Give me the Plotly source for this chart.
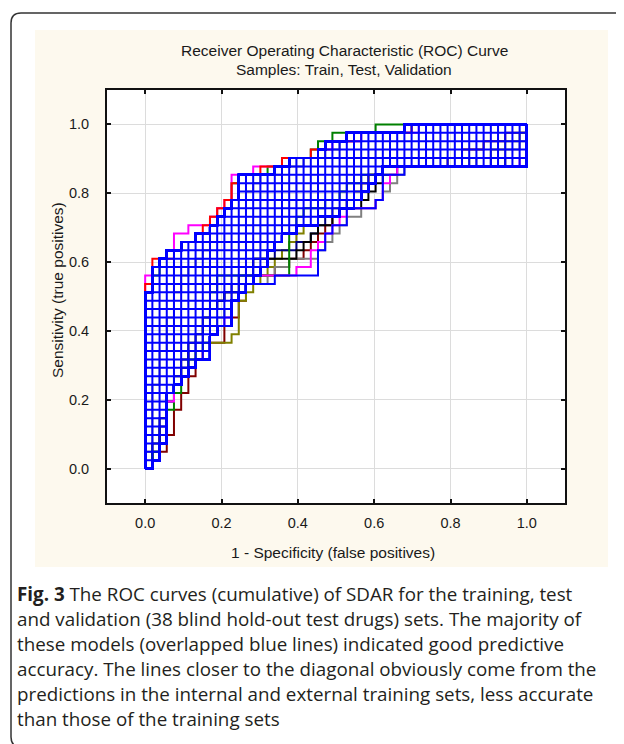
import numpy as np
import plotly.graph_objects as go

# ---------------- data ----------------
N_NEG = 53   # false-positive count that maps to x = 1.0
N_POS = 41   # true-positive count that maps to y = 1.0

TICK_VALUES = [0.0, 0.2, 0.4, 0.6, 0.8, 1.0]
TICK_LABELS = ["0.0", "0.2", "0.4", "0.6", "0.8", "1.0"]

TITLE_LINE_1 = "Receiver Operating Characteristic (ROC) Curve"
TITLE_LINE_2 = "Samples: Train, Test, Validation"
X_TITLE = "1 - Specificity (false positives)"
Y_TITLE = "Sensitivity (true positives)"
CAPTION = [
    "<b>Fig. 3</b> The ROC curves (cumulative) of SDAR for the training, test",
    "and validation (38 blind hold-out test drugs) sets. The majority of",
    "these models (overlapped blue lines) indicated good predictive",
    "accuracy. The lines closer to the diagonal obviously come from the",
    "predictions in the internal and external training sets, less accurate",
    "than those of the training sets",
]

# Every ROC curve is stored as the false-positive count at which
# true-positive count 1..41 is first reached.

# Blue bundle: best (top-left) and worst (bottom-right) blue curves
BLUE_TOP = [0,0,0,0,0,0,0,0,0,0, 0,0,0,0,0,0,0,0,0,0, 0,1,1,1,2,3,5,7,9,10,
            11,12,13,13,13,18,20,24,25,28,36]
BLUE_BOTTOM = [1,2,2,3,3,3,3,3,3,4, 5,6,7,9,9,9,10,12,12,12, 13,14,15,16,17,17,18,19,21,24,
               27,29,30,31,32,33,53,53,53,53,53]
# The overlapping blue curves leave the top curve for the bottom one at every
# true-positive level (rows) and at every false-positive level (columns)
BLUE_CROSS_ROWS = [0,1,2,3,4,5,6,7,8,9,10,11,12,13,14,15,16,17,18,19,20,
                   21,22,23,24,25,26,27,28,29,30,31,32,33,34,35,36,37,38,39,40,41]
BLUE_CROSS_COLS = [0,1,2,3,4,5,6,7,8,9,10,11,12,13,14,15,16,17,18,19,20,21,22,23,24,25,26,
                   27,28,29,30,31,32,33,34,35,36,37,38,39,40,41,42,43,44,45,46,47,48,49,50,51,52,53]
blue_dip = [1,2,2,3,3,3,3,3,3,4, 5,6,7,9,9,9,10,12,12,12, 13,14,18,24,24,24,25,25,26,28,
            28,32,33,33,33,36,53,53,53,53,53]

red = [0,0,0,0,0,0,0,0,0,0, 0,0,0,0,0,0,0,0,0,0, 0,0,1,1,1,4,5,7,8,9, 10,11,12,12,13,16,19,23,25,29,37]
magenta = [0,0,0,0,0,0,0,0,0,0, 0,0,0,0,0,0,0,0,0,0, 0,0,0,1,2,3,4,4,6,9, 10,11,12,12,12,15,20,24,26,30,38]
magenta_b = [1,2,2,3,3,3,3,3,4,4, 5,6,7,8,9,9,10,11,12,12, 13,14,15,21,23,23,24,25,26,27, 28,32,33,33,34,35,52,53,53,53,53]
green_a = [0,0,0,0,0,0,0,0,0,0, 0,0,0,0,0,0,0,0,0,0, 0,1,1,2,2,3,5,7,9,10, 11,12,12,12,13,17,20,23,24,26,32]
green_b = [1,1,2,3,3,3,3,4,4,5, 5,6,6,7,8,9,9,9,9,9, 9,10,10,20,20,20,20,20,21,21, 22,25,27,28,30,33,53,53,53,53,53]
black = [1,1,1,2,2,2,3,3,3,4, 4,5,5,6,6,7,8,8,9,10, 11,13,14,14,15,21,22,23,24,26, 27,30,31,32,33,35,50,53,53,53,53]
navy = [1,1,2,2,2,3,3,3,4,4, 5,5,6,6,7,8,8,9,9,10, 11,12,13,15,15,18,21,23,24,25, 27,28,30,31,32,33,48,53,53,53,53]
grey_a = [0,0,1,1,1,1,1,1,1,1, 2,2,2,2,3,3,3,3,4,4, 4,5,5,6,7,8,9,9,9,9, 10,12,14,15,16,19,22,25,27,30,37]
grey_b = [1,1,2,2,3,3,3,3,4,4, 5,5,6,7,8,9,10,10,11,12, 12,14,17,18,20,24,25,26,27,28, 30,32,33,34,35,36,46,50,52,53,53]
olive = [1,2,2,3,3,3,3,3,3,4, 5,6,7,8,9,12,13,13,13,13, 14,15,16,17,18,19,20,21,22,24, 26,28,29,30,31,33,45,48,50,52,53]
maroon = [1,2,3,3,4,4,4,5,5,6, 6,7,7,8,9,11,11,12,13,13, 14,14,15,18,20,22,23,24,25,26, 27,29,30,30,31,33,42,44,47,50,53]

COLORED = [
    (maroon, "#800000"), (olive, "#808000"), (grey_b, "#808080"), (grey_a, "#808080"),
    (navy, "#000080"), (black, "#000000"), (green_b, "#008000"), (magenta_b, "#ff00ff"),
    (green_a, "#008000"), (magenta, "#ff00ff"), (red, "#ff0000"),
]


def roc_xy(reach):
    fp = [0] + list(reach) + [N_NEG]
    tp = [0] + list(range(1, len(reach) + 1)) + [len(reach)]
    return np.array(fp) / N_NEG, np.array(tp) / N_POS


blue_curves = [blue_dip]
for r in BLUE_CROSS_ROWS:      # leaves the top curve at row r
    blue_curves.append([BLUE_TOP[i] if i + 1 <= r else BLUE_BOTTOM[i] for i in range(N_POS)])
for k in BLUE_CROSS_COLS:      # leaves the bottom curve at column k
    blue_curves.append([min(max(k, BLUE_TOP[i]), BLUE_BOTTOM[i]) for i in range(N_POS)])

fig = go.Figure()
for reach, col in COLORED:
    x, y = roc_xy(reach)
    fig.add_trace(go.Scatter(x=x, y=y, mode="lines", line=dict(color=col, width=2, shape="hv"),
                             hoverinfo="skip"))
for reach in blue_curves:
    x, y = roc_xy(reach)
    fig.add_trace(go.Scatter(x=x, y=y, mode="lines", line=dict(color="#0000ff", width=2, shape="hv"),
                             hoverinfo="skip"))

# ---------------- layout ----------------
OFF = 8                       # page margin of the html body
W, H = 616, 736
PLOT_L, PLOT_R, PLOT_T, PLOT_B = 107, 565, 90, 503   # page pixels of the plot box
L, R, T, B = PLOT_L - OFF, W - (PLOT_R - OFF), PLOT_T - OFF, H - (PLOT_B - OFF)
PW, PH = PLOT_R - PLOT_L, PLOT_B - PLOT_T


def px(xp):
    return (xp - PLOT_L) / PW


def py(yp):
    return (PLOT_B - yp) / PH


shapes = []
frame = (f"M {px(640)},{py(13)} L {px(21)},{py(13)} Q {px(11)},{py(13)} {px(11)},{py(23)} "
         f"L {px(11)},{py(737)} Q {px(11)},{py(747)} {px(21)},{py(747)} L {px(640)},{py(747)}")
shapes.append(dict(type="path", xref="paper", yref="paper", path=frame,
                   line=dict(color="#333333", width=1.5), layer="below"))
shapes.append(dict(type="rect", xref="paper", yref="paper", x0=px(35), x1=px(608), y0=py(567), y1=py(30),
                   fillcolor="#fdf9ee", line=dict(width=0), layer="below"))
shapes.append(dict(type="rect", xref="paper", yref="paper", x0=0, x1=1, y0=0, y1=1,
                   fillcolor="#ffffff", line=dict(width=0), layer="below"))

TXT = "#1a1a1a"
ARIAL = "Liberation Sans, Arial"
ann = [
    dict(text=TITLE_LINE_1, x=px(344), y=py(50), font=dict(size=15.5, color=TXT, family=ARIAL)),
    dict(text=TITLE_LINE_2, x=px(344), y=py(70), font=dict(size=15.5, color=TXT, family=ARIAL)),
    dict(text=X_TITLE, x=px(333), y=py(552), font=dict(size=15.5, color=TXT, family=ARIAL)),
    dict(text=Y_TITLE, x=px(57), y=py(290), textangle=-90, font=dict(size=15.5, color=TXT, family=ARIAL)),
]
for a in ann:
    a.update(xref="paper", yref="paper", showarrow=False, xanchor="center", yanchor="middle")
cap_y = [594, 619, 644, 669, 694, 719]
for line, yy in zip(CAPTION, cap_y):
    ann.append(dict(text=line, x=px(15), y=py(yy), xref="paper", yref="paper", showarrow=False,
                    xanchor="left", yanchor="middle",
                    font=dict(size=18.8, color="#231f20", family="Open Sans")))

axis_common = dict(range=[-0.1, 1.1], tickvals=TICK_VALUES, ticktext=TICK_LABELS,
                   showgrid=True, gridcolor="#dcdcdc", gridwidth=1, zeroline=False,
                   showline=True, linecolor="#111111", linewidth=2, mirror="allticks",
                   ticks="inside", ticklen=4, tickwidth=1.5, tickcolor="#111111",
                   tickfont=dict(size=14.5, color=TXT, family=ARIAL))

fig.update_layout(
    width=W, height=H, autosize=False,
    margin=dict(l=L, r=R, t=T, b=B, pad=0),
    paper_bgcolor="#ffffff", plot_bgcolor="rgba(0,0,0,0)",
    showlegend=False,
    xaxis=dict(**axis_common, ticklabelstandoff=6),
    yaxis=dict(**axis_common, ticklabelstandoff=13),
    shapes=shapes, annotations=ann,
)

fig.write_html("out.html")
